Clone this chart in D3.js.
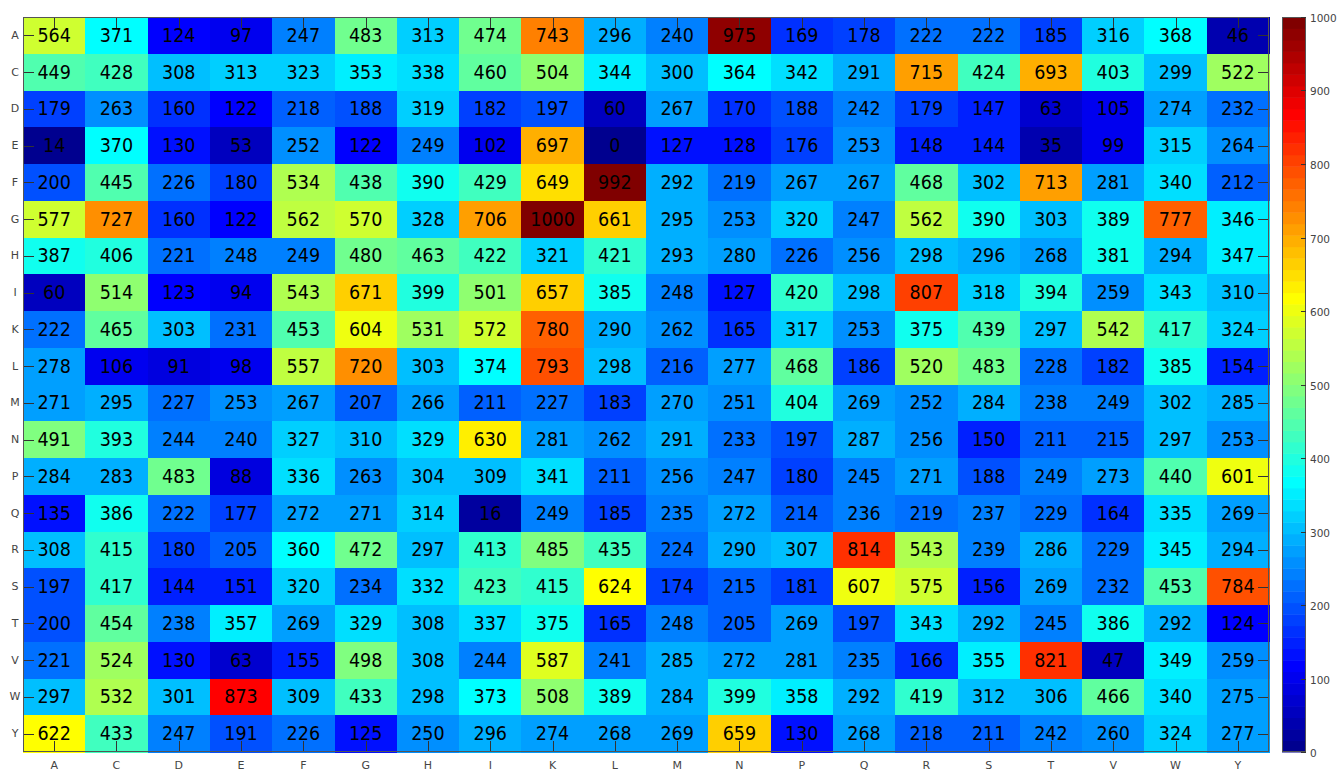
<!DOCTYPE html>
<html>
<head>
<meta charset="utf-8">
<script src="https://cdn.jsdelivr.net/npm/d3@7"></script>
<style>
  html, body { margin: 0; padding: 0; background: #fff; }
  svg { display: block; font-family: "DejaVu Sans", sans-serif; }
  .cell-label { font-family: "DejaVu Sans Condensed", "DejaVu Sans", sans-serif; font-stretch: condensed; }
</style>
</head>
<body>
<svg id="chart" width="1337" height="770"></svg>
<script>
// Amino acid labels (rows top-to-bottom, columns left-to-right)
const rowLabels = ["A","C","D","E","F","G","H","I","K","L","M","N","P","Q","R","S","T","V","W","Y"];
const colLabels = ["A","C","D","E","F","G","H","I","K","L","M","N","P","Q","R","S","T","V","W","Y"];

// Matrix values, one array per row
const rowA = [564,371,124,97,247,483,313,474,743,296,240,975,169,178,222,222,185,316,368,46];
const rowC = [449,428,308,313,323,353,338,460,504,344,300,364,342,291,715,424,693,403,299,522];
const rowD = [179,263,160,122,218,188,319,182,197,60,267,170,188,242,179,147,63,105,274,232];
const rowE = [14,370,130,53,252,122,249,102,697,0,127,128,176,253,148,144,35,99,315,264];
const rowF = [200,445,226,180,534,438,390,429,649,992,292,219,267,267,468,302,713,281,340,212];
const rowG = [577,727,160,122,562,570,328,706,1000,661,295,253,320,247,562,390,303,389,777,346];
const rowH = [387,406,221,248,249,480,463,422,321,421,293,280,226,256,298,296,268,381,294,347];
const rowI = [60,514,123,94,543,671,399,501,657,385,248,127,420,298,807,318,394,259,343,310];
const rowK = [222,465,303,231,453,604,531,572,780,290,262,165,317,253,375,439,297,542,417,324];
const rowL = [278,106,91,98,557,720,303,374,793,298,216,277,468,186,520,483,228,182,385,154];
const rowM = [271,295,227,253,267,207,266,211,227,183,270,251,404,269,252,284,238,249,302,285];
const rowN = [491,393,244,240,327,310,329,630,281,262,291,233,197,287,256,150,211,215,297,253];
const rowP = [284,283,483,88,336,263,304,309,341,211,256,247,180,245,271,188,249,273,440,601];
const rowQ = [135,386,222,177,272,271,314,16,249,185,235,272,214,236,219,237,229,164,335,269];
const rowR = [308,415,180,205,360,472,297,413,485,435,224,290,307,814,543,239,286,229,345,294];
const rowS = [197,417,144,151,320,234,332,423,415,624,174,215,181,607,575,156,269,232,453,784];
const rowT = [200,454,238,357,269,329,308,337,375,165,248,205,269,197,343,292,245,386,292,124];
const rowV = [221,524,130,63,155,498,308,244,587,241,285,272,281,235,166,355,821,47,349,259];
const rowW = [297,532,301,873,309,433,298,373,508,389,284,399,358,292,419,312,306,466,340,275];
const rowY = [622,433,247,191,226,125,250,296,274,268,269,659,130,268,218,211,242,260,324,277];

const matrix = [rowA,rowC,rowD,rowE,rowF,rowG,rowH,rowI,rowK,rowL,rowM,rowN,rowP,rowQ,rowR,rowS,rowT,rowV,rowW,rowY];

// Colour bar ticks
const colorTicks = [0,100,200,300,400,500,600,700,800,900,1000];
const cMin = 0, cMax = 1000;

// 64-step jet palette
const nColors = 64;
function clamp01(v) { return Math.max(0, Math.min(1, v)); }
function jet(t) {
  const r = clamp01(1.5 - Math.abs(4 * t - 3));
  const g = clamp01(1.5 - Math.abs(4 * t - 2));
  const b = clamp01(1.5 - Math.abs(4 * t - 1));
  return d3.rgb(r * 255, g * 255, b * 255).formatHex();
}
const palette = d3.range(nColors).map(i => jet((i + 1) / nColors));
const colorScale = d3.scaleQuantize().domain([cMin, cMax]).range(palette);

const svg = d3.select("#chart");
const plotLeft = 23, plotRight = 1269, plotTop = 17, plotBottom = 752;

const x = d3.scaleBand().domain(colLabels).range([plotLeft, plotRight]).padding(0);
const y = d3.scaleBand().domain(rowLabels).range([plotTop, plotBottom]).padding(0);

const cells = [];
matrix.forEach((row, ri) => row.forEach((v, ci) => cells.push({ r: rowLabels[ri], c: colLabels[ci], v })));

// Heatmap cells
svg.append("g").selectAll("rect").data(cells).join("rect")
  .attr("x", d => x(d.c))
  .attr("y", d => y(d.r))
  .attr("width", x.bandwidth() + 0.5)
  .attr("height", y.bandwidth() + 0.5)
  .attr("fill", d => colorScale(d.v))
  .attr("shape-rendering", "crispEdges");

// Inner tick marks on all four sides
const tickLen = 11;
const tickColor = "#333";
const tg = svg.append("g").attr("stroke", tickColor).attr("stroke-width", 1);
colLabels.forEach(c => {
  const cx = Math.round(x(c) + x.bandwidth() / 2) + 0.5;
  tg.append("line").attr("x1", cx).attr("x2", cx).attr("y1", plotTop).attr("y2", plotTop + tickLen);
  tg.append("line").attr("x1", cx).attr("x2", cx).attr("y1", plotBottom).attr("y2", plotBottom - tickLen);
});
rowLabels.forEach(r => {
  const cy = Math.round(y(r) + y.bandwidth() / 2) + 0.5;
  tg.append("line").attr("x1", plotLeft).attr("x2", plotLeft + tickLen).attr("y1", cy).attr("y2", cy);
  tg.append("line").attr("x1", plotRight).attr("x2", plotRight - tickLen).attr("y1", cy).attr("y2", cy);
});

// Cell value labels
svg.append("g").selectAll("text").data(cells).join("text")
  .attr("class", "cell-label")
  .attr("x", d => x(d.c) + x.bandwidth() / 2)
  .attr("y", d => y(d.r) + y.bandwidth() / 2)
  .attr("text-anchor", "middle")
  .attr("dominant-baseline", "central")
  .attr("font-size", 19.5)
  .attr("fill", "#000")
  .text(d => d.v);

// Frame
svg.append("rect")
  .attr("x", plotLeft + 0.5).attr("y", plotTop + 0.5)
  .attr("width", plotRight - plotLeft - 1).attr("height", plotBottom - plotTop - 1)
  .attr("fill", "none").attr("stroke", "#555").attr("stroke-width", 1);

// Axis labels
svg.append("g").selectAll("text").data(rowLabels).join("text")
  .attr("x", 15)
  .attr("y", r => y(r) + y.bandwidth() / 2)
  .attr("text-anchor", "middle")
  .attr("dominant-baseline", "central")
  .attr("font-size", 11)
  .attr("fill", "#444")
  .text(r => r);

svg.append("g").selectAll("text").data(colLabels).join("text")
  .attr("x", c => x(c) + x.bandwidth() / 2)
  .attr("y", 765)
  .attr("text-anchor", "middle")
  .attr("dominant-baseline", "central")
  .attr("font-size", 11)
  .attr("fill", "#444")
  .text(c => c);

// Colour bar
const cbLeft = 1282, cbRight = 1306;
const cbY = d3.scaleLinear().domain([cMin, cMax]).range([plotBottom, plotTop]);
const step = (cMax - cMin) / nColors;
svg.append("g").selectAll("rect").data(palette).join("rect")
  .attr("x", cbLeft)
  .attr("y", (c, i) => cbY(cMin + (i + 1) * step))
  .attr("width", cbRight - cbLeft)
  .attr("height", (c, i) => cbY(cMin + i * step) - cbY(cMin + (i + 1) * step) + 0.5)
  .attr("fill", c => c);

svg.append("rect")
  .attr("x", cbLeft + 0.5).attr("y", plotTop + 0.5)
  .attr("width", cbRight - cbLeft - 1).attr("height", plotBottom - plotTop - 1)
  .attr("fill", "none").attr("stroke", "#555").attr("stroke-width", 1);

const cbt = svg.append("g");
colorTicks.forEach(t => {
  const ty = Math.round(cbY(t)) + 0.5;
  cbt.append("line").attr("x1", cbRight - 5).attr("x2", cbRight).attr("y1", ty).attr("y2", ty)
    .attr("stroke", "#333");
  cbt.append("text")
    .attr("x", 1310).attr("y", ty)
    .attr("dominant-baseline", "central")
    .attr("font-size", 10.5)
    .attr("fill", "#444")
    .text(t);
});
</script>
</body>
</html>
